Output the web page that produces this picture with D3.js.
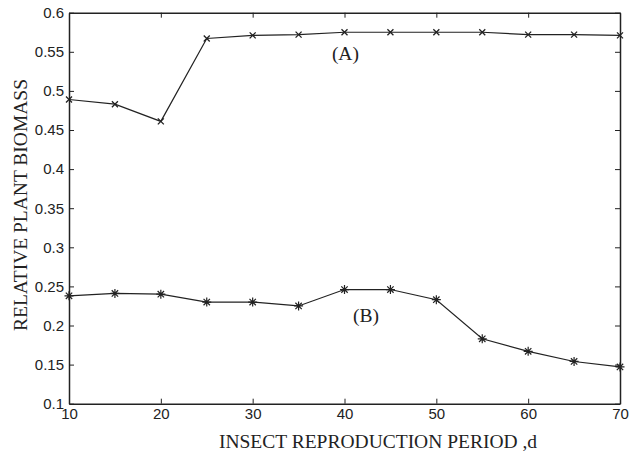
<!DOCTYPE html>
<html>
<head>
<meta charset="utf-8">
<script src="https://cdn.jsdelivr.net/npm/d3@7"></script>
<style>
  body { margin: 0; background: #fff; }
  .tick text { font-family: "Liberation Sans", Arial, sans-serif; font-size: 15px; fill: #222; }
  .aText { font-family: "Liberation Serif", "Times New Roman", serif; font-size: 19.5px; fill: #222; }
</style>
</head>
<body>
<div id="chart"></div>
<script>
// Data
var periods = [10, 15, 20, 25, 30, 35, 40, 45, 50, 55, 60, 65, 70];
var seriesA = [0.489, 0.483, 0.461, 0.567, 0.571, 0.572, 0.575, 0.575, 0.575, 0.575, 0.572, 0.572, 0.571];
var seriesB = [0.238, 0.241, 0.240, 0.230, 0.230, 0.225, 0.246, 0.246, 0.233, 0.183, 0.167, 0.154, 0.147];
var xTicks = [10, 20, 30, 40, 50, 60, 70];
var yTicks = [0.1, 0.15, 0.2, 0.25, 0.3, 0.35, 0.4, 0.45, 0.5, 0.55, 0.6];

var svgWidth = 638;
var svgHeight = 453;
var margin = { top: 12.7, right: 18, bottom: 49.3, left: 69 };
var width = svgWidth - margin.left - margin.right;
var height = svgHeight - margin.top - margin.bottom;

var svg = d3.select("#chart")
  .append("svg")
  .attr("width", svgWidth)
  .attr("height", svgHeight);
var chartGroup = svg.append("g")
  .attr("transform", `translate(${margin.left}, ${margin.top})`);

var xScale = d3.scaleLinear().domain([10, 70]).range([0, width]);
var yScale = d3.scaleLinear().domain([0.1, 0.6]).range([height, 0]);

// axes, MATLAB style: ticks pointing inward on all four sides
var fmt = d => String(+d.toFixed(2));
var bottomAxis = d3.axisBottom(xScale).tickValues(xTicks).tickSizeInner(-5).tickSizeOuter(0).tickPadding(4.5).tickFormat(fmt);
var leftAxis = d3.axisLeft(yScale).tickValues(yTicks).tickSizeInner(-5).tickSizeOuter(0).tickPadding(5).tickFormat(fmt);
var topAxis = d3.axisTop(xScale).tickValues(xTicks).tickSizeInner(-5).tickSizeOuter(0).tickFormat("");
var rightAxis = d3.axisRight(yScale).tickValues(yTicks).tickSizeInner(-5).tickSizeOuter(0).tickFormat("");

chartGroup.append("g").attr("transform", `translate(0, ${height})`).call(bottomAxis);
chartGroup.append("g").call(leftAxis);
chartGroup.append("g").call(topAxis);
chartGroup.append("g").attr("transform", `translate(${width}, 0)`).call(rightAxis);
chartGroup.selectAll(".domain").attr("stroke", "#222").attr("stroke-width", 1.5);
chartGroup.selectAll(".tick line").attr("stroke", "#222");

var line = d3.line().x(d => xScale(d[0])).y(d => yScale(d[1]));
var dataA = periods.map((p, i) => [p, seriesA[i]]);
var dataB = periods.map((p, i) => [p, seriesB[i]]);

chartGroup.append("path").datum(dataA)
  .attr("fill", "none").attr("stroke", "#222").attr("stroke-width", 1.2)
  .attr("d", line);
chartGroup.append("path").datum(dataB)
  .attr("fill", "none").attr("stroke", "#222").attr("stroke-width", 1.2)
  .attr("d", line);

// x markers for (A)
var s = 3;
chartGroup.selectAll(".markA").data(dataA).enter()
  .append("path")
  .attr("d", d => {
    var x = xScale(d[0]), y = yScale(d[1]);
    return `M${x - s},${y - s}L${x + s},${y + s}M${x - s},${y + s}L${x + s},${y - s}`;
  })
  .attr("stroke", "#222").attr("stroke-width", 1.3);

// star markers for (B)
var r = 4.5, q = 3.2;
chartGroup.selectAll(".markB").data(dataB).enter()
  .append("path")
  .attr("d", d => {
    var x = xScale(d[0]), y = yScale(d[1]);
    return `M${x - r},${y}L${x + r},${y}M${x},${y - r}L${x},${y + r}` +
      `M${x - q},${y - q}L${x + q},${y + q}M${x - q},${y + q}L${x + q},${y - q}`;
  })
  .attr("stroke", "#222").attr("stroke-width", 1.2);

// curve labels
chartGroup.append("text")
  .attr("x", xScale(40.1)).attr("y", yScale(0.539))
  .attr("text-anchor", "middle").classed("aText", true)
  .text("(A)");
chartGroup.append("text")
  .attr("x", xScale(42.35)).attr("y", yScale(0.204))
  .attr("text-anchor", "middle").classed("aText", true)
  .text("(B)");

// axis labels
chartGroup.append("text")
  .attr("transform", `translate(${378 - margin.left}, ${448 - margin.top})`)
  .attr("text-anchor", "middle")
  .classed("aText", true)
  .text("INSECT REPRODUCTION PERIOD ,d");

chartGroup.append("text")
  .attr("transform", "rotate(-90)")
  .attr("y", -margin.left + 27)
  .attr("x", -(205 - margin.top))
  .attr("text-anchor", "middle")
  .classed("aText", true)
  .text("RELATIVE PLANT BIOMASS");
</script>
</body>
</html>
